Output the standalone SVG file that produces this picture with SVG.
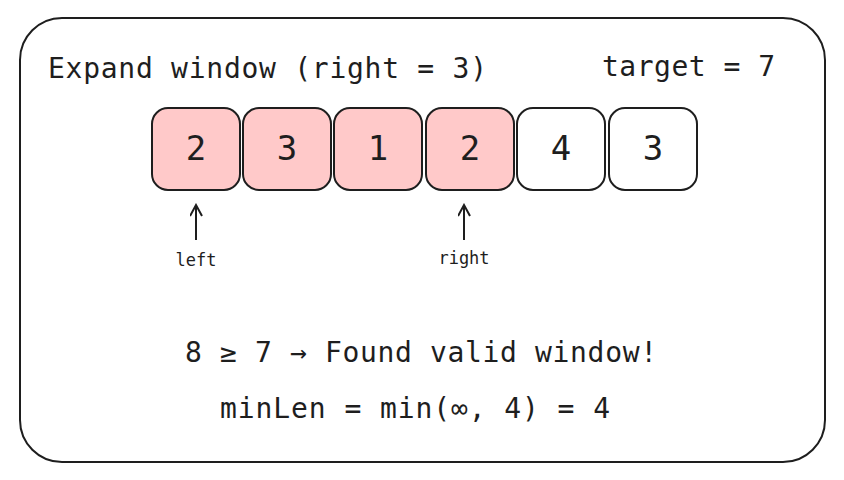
<svg xmlns="http://www.w3.org/2000/svg" width="844" height="480" viewBox="0 0 844 480">
<style>
text{font-family:"DejaVu Sans Mono","Liberation Mono",monospace;fill:#1e1e1e}
.big{font-size:28px}
.num{font-size:34px;text-anchor:middle}
.lbl{font-size:17px;text-anchor:middle}
.box{stroke:#1e1e1e;stroke-width:2;}
.on{fill:#ffc9c9}
.off{fill:#fff}
</style>
<defs><marker id="ah" markerWidth="14" markerHeight="14" refX="12" refY="6" orient="auto" markerUnits="userSpaceOnUse"><path d="M1,0 L12,6 L1,12" fill="none" stroke="#1e1e1e" stroke-width="2"/></marker></defs>
<rect x="0" y="0" width="844" height="480" fill="#fff"/>
<g id="frame"><rect x="20" y="18" width="805" height="444" rx="42" fill="none" stroke="#1e1e1e" stroke-width="2"/></g>
<g id="title"><text class="big" x="48" y="78" textLength="439">Expand window (right = 3)</text>
<text class="big" x="602" y="76" textLength="173">target = 7</text></g>
<g id="c0"><rect class="box on" x="152" y="108" width="88" height="82" rx="16"/><text class="num" x="196" y="160">2</text></g>
<g id="c1"><rect class="box on" x="243" y="108" width="88" height="82" rx="16"/><text class="num" x="287" y="160">3</text></g>
<g id="c2"><rect class="box on" x="334" y="108" width="88" height="82" rx="16"/><text class="num" x="378" y="160">1</text></g>
<g id="c3"><rect class="box on" x="426" y="108" width="88" height="82" rx="16"/><text class="num" x="470" y="160">2</text></g>
<g id="c4"><rect class="box off" x="517" y="108" width="88" height="82" rx="16"/><text class="num" x="561" y="160">4</text></g>
<g id="c5"><rect class="box off" x="609" y="108" width="88" height="82" rx="16"/><text class="num" x="653" y="160">3</text></g>
<g id="connectors">
<line x1="196" y1="240" x2="196" y2="205" stroke="#1e1e1e" stroke-width="2" marker-end="url(#ah)"/>
<line x1="464" y1="240" x2="464" y2="205" stroke="#1e1e1e" stroke-width="2" marker-end="url(#ah)"/>
</g>
<g id="labels"><text class="lbl" x="196" y="266">left</text><text class="lbl" x="464" y="264">right</text></g>
<g id="result"><text class="big" x="185" y="362" textLength="472">8 ≥ 7 → Found valid window!</text>
<text class="big" x="220" y="418" textLength="390">minLen = min(∞, 4) = 4</text></g>
</svg>
